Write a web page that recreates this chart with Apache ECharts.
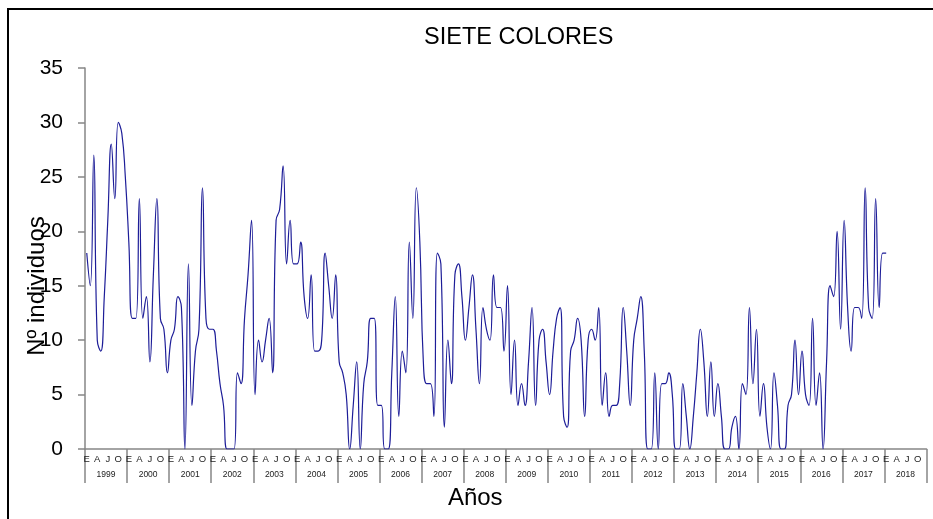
<!DOCTYPE html>
<html>
<head>
<meta charset="utf-8">
<script src="https://cdn.jsdelivr.net/npm/echarts@6/dist/echarts.min.js"></script>
<style>
  html, body { margin: 0; padding: 0; background: #fff; }
  #chart { width: 933px; height: 519px; }
</style>
</head>
<body>
<div id="chart"></div>
<script>
const years = ['1999', '2000', '2001', '2002', '2003', '2004', '2005', '2006', '2007', '2008',
  '2009', '2010', '2011', '2012', '2013', '2014', '2015', '2016', '2017', '2018'];
const monthLetters = ['E', 'F', 'M', 'A', 'M', 'J', 'J', 'A', 'S', 'O', 'N', 'D'];

// monthly counts, Jan 1999 .. Jan 2018
const individuos = [
  18, 15, 27, 10, 9, 14, 21, 28, 23, 30, 29, 25,   // 1999
  19, 12, 12, 23, 12, 14, 8, 16, 23, 12, 11, 7,    // 2000
  10, 11, 14, 13, 0, 17, 4, 9, 11, 24, 12, 11,     // 2001
  11, 9, 6, 4, 0, 0, 0, 7, 6, 12, 16, 21,          // 2002
  5, 10, 8, 10, 12, 7, 21, 22, 26, 17, 21, 17,     // 2003
  17, 19, 14, 12, 16, 9, 9, 10, 18, 15, 12, 16,    // 2004
  8, 7, 5, 0, 4, 8, 0, 6, 8, 12, 12, 4,            // 2005
  4, 0, 0, 7, 14, 3, 9, 7, 19, 12, 24, 19,         // 2006
  8, 6, 6, 3, 18, 17, 2, 10, 6, 16, 17, 14,        // 2007
  10, 13, 16, 11, 6, 13, 11, 10, 16, 13, 13, 9,    // 2008
  15, 5, 10, 4, 6, 4, 8, 13, 4, 10, 11, 8,         // 2009
  5, 9, 12, 13, 3, 2, 9, 10, 12, 10, 3, 10,        // 2010
  11, 10, 13, 4, 7, 3, 4, 4, 6, 13, 9, 4,          // 2011
  10, 12, 14, 9, 0, 0, 7, 0, 6, 6, 7, 5,           // 2012
  0, 0, 6, 3, 0, 3, 7, 11, 8, 3, 8, 3,             // 2013
  6, 3, 0, 0, 2, 3, 0, 6, 5, 13, 6, 11,            // 2014
  3, 6, 2, 0, 7, 4, 0, 0, 4, 5, 10, 5,             // 2015
  9, 5, 4, 12, 4, 7, 0, 8, 15, 14, 20, 11,         // 2016
  21, 13, 9, 13, 13, 12, 24, 13, 12, 23, 13, 18,   // 2017
  18                                               // 2018
];

const monthCats = [];
years.forEach(y => monthLetters.forEach((m, k) => monthCats.push(y + '-' + (k + 1))));

const chart = echarts.init(document.getElementById('chart'));
const axisGrey = '#868686';
const font = '"Liberation Sans", Arial, sans-serif';

chart.setOption({
  animation: false,
  backgroundColor: '#fff',
  title: {
    text: 'SIETE COLORES',
    left: 424,
    top: 26,
    padding: 0,
    textStyle: { color: '#000', fontSize: 23.5, fontWeight: 'normal', fontFamily: font }
  },
  graphic: [{
    type: 'rect',
    silent: true,
    shape: { x: 8, y: 9, width: 1000, height: 600 },
    style: { fill: 'none', stroke: '#000', lineWidth: 2 }
  }],
  grid: { left: 85, right: 6.5, top: 68, bottom: 70, outerBoundsMode: 'none' },
  xAxis: [
    {
      type: 'category',
      data: monthCats,
      boundaryGap: true,
      axisLine: { lineStyle: { color: axisGrey, width: 1.5 } },
      axisTick: { show: false },
      axisLabel: {
        interval: 2,
        margin: 5,
        fontSize: 9.5,
        color: '#222',
        fontFamily: font,
        formatter: (v, i) => monthLetters[i % 12]
      }
    },
    {
      type: 'category',
      data: years,
      position: 'bottom',
      boundaryGap: true,
      axisLine: { show: false },
      axisTick: { show: true, interval: 0, length: 34, lineStyle: { color: axisGrey, width: 1.5 } },
      axisLabel: { interval: 0, margin: 21, fontSize: 8.5, color: '#222', fontFamily: font },
      name: 'Años',
      nameLocation: 'middle',
      nameGap: 37,
      nameMoveOverlap: false,
      nameTextStyle: { color: '#000', fontSize: 24, fontFamily: font, padding: [0, 61, 0, 0] }
    }
  ],
  yAxis: {
    type: 'value',
    min: 0,
    max: 35,
    interval: 5,
    splitLine: { show: false },
    axisLine: { show: true, lineStyle: { color: axisGrey, width: 1.5 } },
    axisTick: { show: true, length: 7, lineStyle: { color: axisGrey, width: 1.5 } },
    axisLabel: { margin: 22, fontSize: 21, color: '#000', fontFamily: font },
    name: 'Nº individuos',
    nameLocation: 'middle',
    nameGap: 36,
    nameMoveOverlap: false,
    nameTextStyle: { color: '#000', fontSize: 24, fontFamily: font, padding: [0, 55, 0, 0] }
  },
  series: [{
    type: 'line',
    xAxisIndex: 0,
    data: individuos,
    smooth: 0.5,
    symbol: 'none',
    lineStyle: { color: '#1d1d98', width: 1.2 }
  }]
});
</script>
</body>
</html>
